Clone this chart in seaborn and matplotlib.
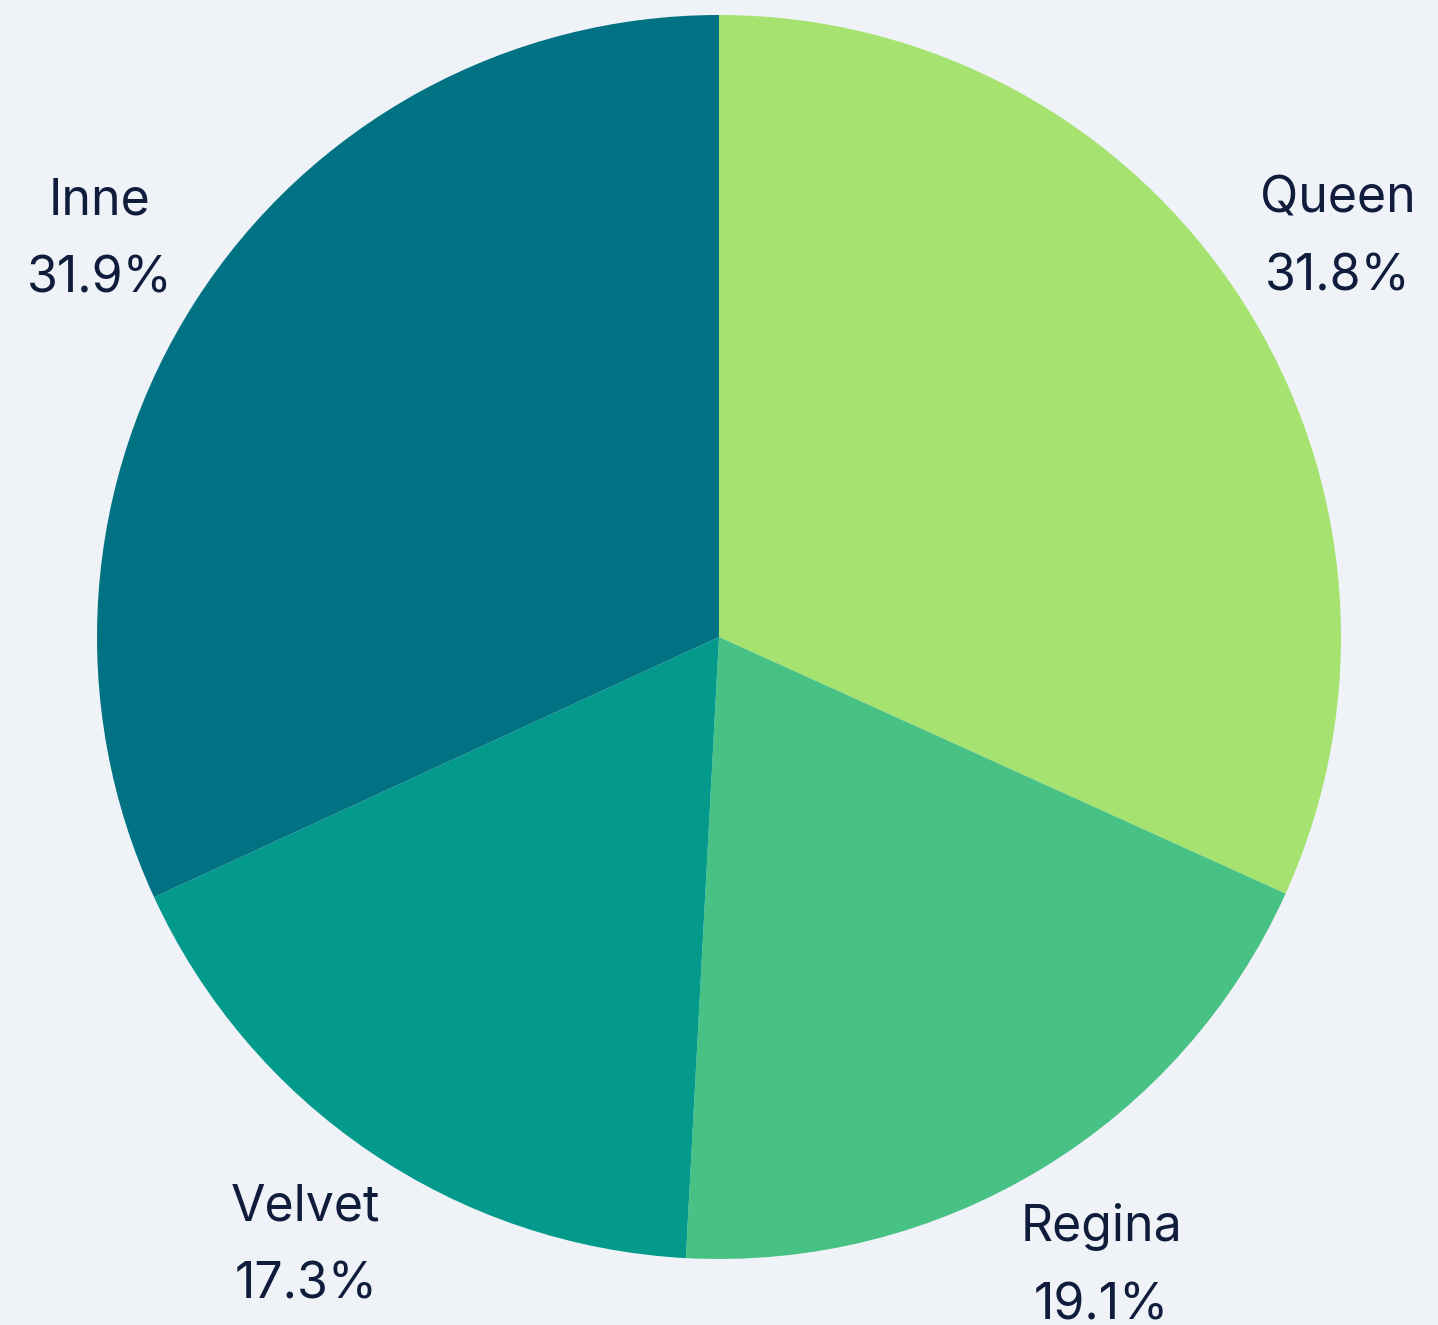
import matplotlib
matplotlib.use("Agg")
import matplotlib.pyplot as plt
import seaborn as sns

# Share of each brand
brands = ["Queen", "Regina", "Velvet", "Inne"]
shares = [31.8, 19.1, 17.3, 31.9]
colors = ["#a6e270", "#48c184", "#039a8c", "#017284"]

sns.set_theme(style="white")
plt.rcParams["font.family"] = ["Inter", "DejaVu Sans"]

bg = "#eff3f8"
fig = plt.figure(figsize=(14.38, 13.25), dpi=100, facecolor=bg)
ax = fig.add_axes([0, 0, 1, 1])
ax.set_facecolor(bg)

labels = [f"{b}\n{s:.1f}%" for b, s in zip(brands, shares)]
wedges, texts = ax.pie(
    shares,
    labels=labels,
    colors=colors,
    startangle=90,
    counterclock=False,
    labeldistance=1.183,
    wedgeprops=dict(linewidth=0),
    textprops=dict(fontsize=36, color="#0f1c3c", ha="center", va="center",
                   linespacing=1.85),
)

# 1 data unit = 622 px radius; pie center at (719, 637) from top-left
r = 622.0
ax.set_xlim(-719 / r, (1438 - 719) / r)
ax.set_ylim(-(1325 - 637) / r, 637 / r)
ax.set_aspect("auto")
ax.axis("off")

fig.savefig("out.png", dpi=100, facecolor=bg)
